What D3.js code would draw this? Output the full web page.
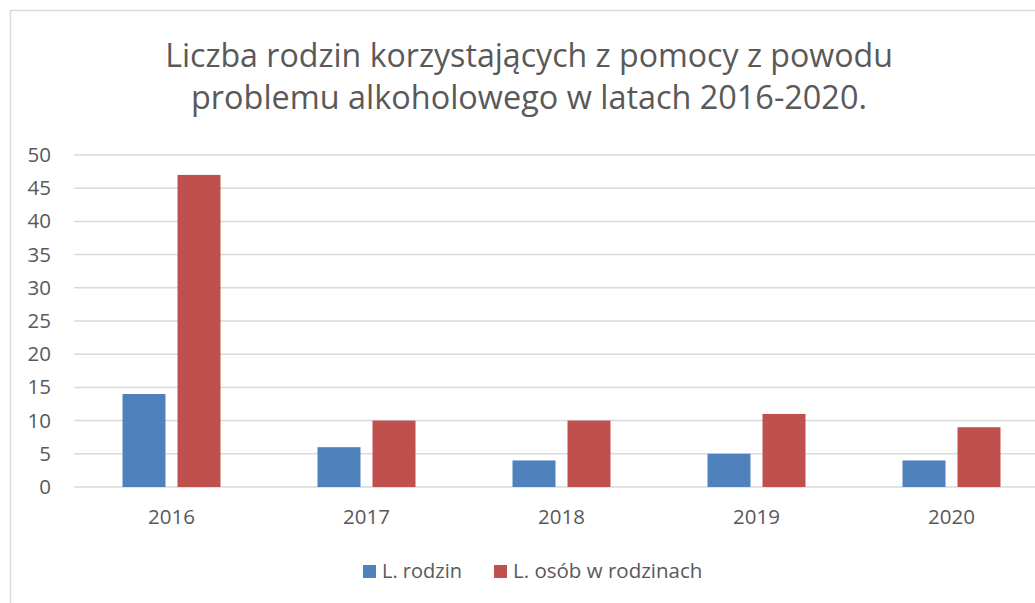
<!DOCTYPE html>
<html>
<head>
<meta charset="utf-8">
<script src="https://cdn.jsdelivr.net/npm/d3@7"></script>
<style>
  body { margin: 0; background: #fff; }
  text { font-family: "Open Sans", "Noto Sans", sans-serif; fill: #595959; }
</style>
</head>
<body>
<div id="chart-area"></div>
<script>
var w = 1035;
var h = 603;

var years = ["2016", "2017", "2018", "2019", "2020"];
var rodziny = [14, 6, 4, 5, 4];
var osoby = [47, 10, 10, 11, 9];
var yTicks = [0, 5, 10, 15, 20, 25, 30, 35, 40, 45, 50];
var seriesNames = ["L. rodzin", "L. osób w rodzinach"];
var colors = ["#4f81bd", "#c0504d"];
var titleLines = ["Liczba rodzin korzystających z pomocy z powodu",
                  "problemu alkoholowego w latach 2016-2020."];

var svg = d3.select('#chart-area').append('svg')
        .attr('width', w)
        .attr('height', h);

// chart frame (cropped at right and bottom)
svg.append('rect')
    .attr('x', 10.5)
    .attr('y', 10.5)
    .attr('width', 1100)
    .attr('height', 700)
    .attr('fill', 'none')
    .attr('stroke', '#d9d9d9')
    .attr('stroke-width', 1.5);

// title, sized to the width of each line in the picture
var title = svg.append('g');
var titleWidths = [728, 676];
titleLines.forEach(function(t, i){
  var tx = title.append('text')
      .attr('x', 529)
      .attr('y', 67 + i * 42)
      .attr('text-anchor', 'middle')
      .attr('font-size', 30)
      .text(t);
  var len = tx.node().getComputedTextLength();
  tx.attr('font-size', 30 * titleWidths[i] / len);
});

var x = d3.scaleBand()
    .domain(years)
    .range([74, 74 + 5 * 195]);

var y = d3.scaleLinear()
    .domain([0, 50])
    .range([487, 155]);

// gridlines
svg.append('g').selectAll('line')
    .data(yTicks)
    .enter()
    .append('line')
    .attr('x1', 74)
    .attr('x2', w)
    .attr('y1', d => y(d))
    .attr('y2', d => y(d))
    .attr('stroke', '#d9d9d9')
    .attr('stroke-width', 1.5);

// y axis labels
var yAxis = d3.axisLeft(y).tickValues(yTicks).tickSize(0).tickPadding(0);
var yg = svg.append('g')
    .attr('transform', 'translate(51,0)')
    .call(yAxis);
yg.select('.domain').remove();
yg.selectAll('text')
    .attr('font-size', 20.5)
    .attr('fill', '#595959')
    .attr('font-family', '"Open Sans", sans-serif');

// x axis labels
var xAxis = d3.axisBottom(x).tickSize(0).tickPadding(0);
var xg = svg.append('g')
    .attr('transform', 'translate(0,509)')
    .call(xAxis);
xg.select('.domain').remove();
xg.selectAll('text')
    .attr('font-size', 20.5)
    .attr('fill', '#595959')
    .attr('font-family', '"Open Sans", sans-serif');

// bars
var barW = 43;
var gap = 12;
var series = [rodziny, osoby];
series.forEach(function(vals, s){
  svg.append('g').selectAll('rect')
    .data(vals)
    .enter()
    .append('rect')
    .attr('x', (d, i) => x(years[i]) + x.bandwidth() / 2 + (s === 0 ? -gap / 2 - barW : gap / 2))
    .attr('y', d => y(d))
    .attr('width', barW)
    .attr('height', d => y(0) - y(d))
    .attr('fill', colors[s]);
});

// legend
var legendX = [363, 494];
var legendW = [80, 192];
var legend = svg.append('g');
seriesNames.forEach(function(n, i){
  legend.append('rect')
      .attr('x', legendX[i])
      .attr('y', 565)
      .attr('width', 13)
      .attr('height', 13)
      .attr('fill', colors[i]);
  var lt = legend.append('text')
      .attr('x', legendX[i] + 19)
      .attr('y', 578)
      .attr('font-size', 19)
      .text(n);
  var len = lt.node().getComputedTextLength();
  lt.attr('font-size', Math.min(20.5, 19 * legendW[i] / len));
});
</script>
</body>
</html>
